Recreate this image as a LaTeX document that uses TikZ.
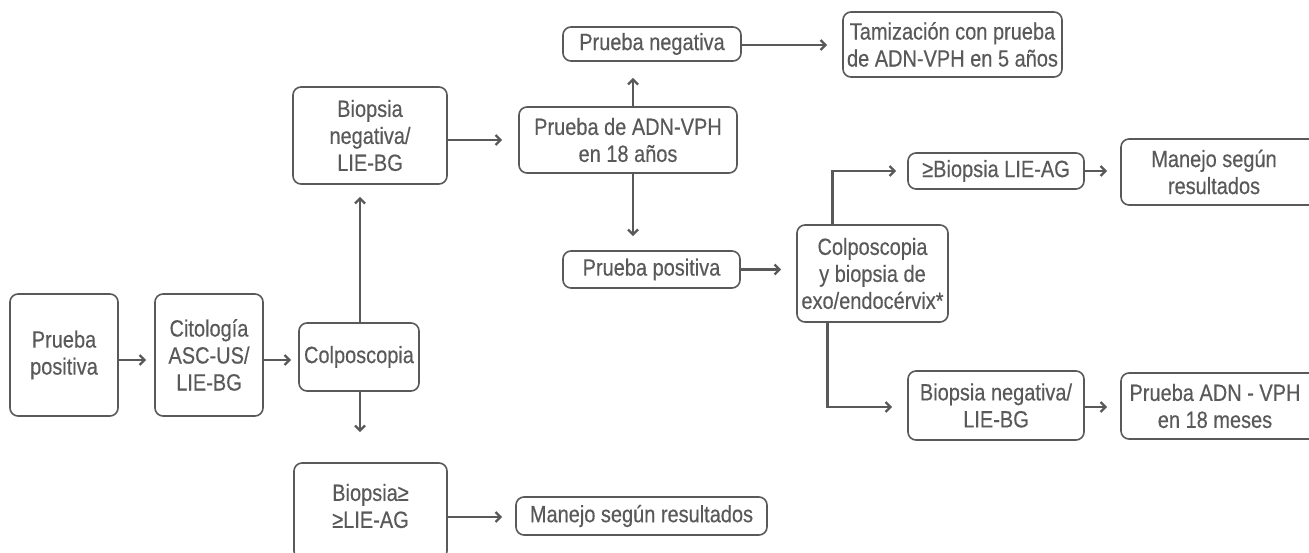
\documentclass[tikz,border=0pt]{standalone}
\usepackage{fontspec}
\setmainfont{Liberation Sans}[FakeStretch=0.85,FakeBold=0.4]
\usetikzlibrary{arrows.meta,calc}
\definecolor{ink}{HTML}{595959}
\begin{document}
\begin{tikzpicture}[x=1pt,y=-1pt,
  box/.style={draw=ink, line width=1.6pt, rounded corners=8pt, inner sep=0pt,
    align=center, text=ink, font=\fontsize{23.5}{27}\selectfont},
  lbl/.style={inner sep=0pt, align=center, text=ink, font=\fontsize{23.5}{27}\selectfont},
  arr/.style={draw=ink, line width=2.4pt, -{Straight Barb[length=5pt,width=10pt]}}]
\useasboundingbox (0,0) rectangle (1309,553);
\clip (0,0) rectangle (1309,553);

% left column
\node[box, minimum width=108pt, minimum height=122pt] (pp) at (64,355) {Prueba\\positiva};
\node[box, minimum width=108pt, minimum height=122pt] (cit) at (209,355) {Citología\\ASC-US/\\LIE-BG};
\node[box, minimum width=120pt, minimum height=68pt] (colp) at (359,357) {Colposcopia};
\node[box, minimum width=154pt, minimum height=97pt] (bneg) at (370,135.5) {Biopsia\\negativa/\\LIE-BG};
\node[box, minimum width=153pt, minimum height=96pt] (bag) at (370.5,511) {};
\node[lbl] (bagt) at (370.5,506) {Biopsia≥\\≥LIE-AG};
\node[box, minimum width=251pt, minimum height=38pt] (man1) at (641.5,516) {Manejo según resultados};

% middle column
\node[box, minimum width=218pt, minimum height=66pt] (adn) at (628,140) {Prueba de ADN-VPH\\en 18 años};
\node[box, minimum width=178pt, minimum height=34pt] (pneg) at (652,44) {Prueba negativa};
\node[box, minimum width=219pt, minimum height=65pt] (tam) at (952.5,44.5) {Tamización con prueba\\de ADN-VPH en 5 años};
\node[box, minimum width=177pt, minimum height=37pt] (ppos) at (651.5,269.5) {Prueba positiva};

% right column
\node[box, minimum width=151pt, minimum height=97pt] (colp2) at (872.5,273.5) {Colposcopia\\y biopsia de\\exo/endocérvix*};
\node[box, minimum width=176pt, minimum height=36pt] (bag2) at (996,171) {≥Biopsia LIE-AG};
\node[box, minimum width=176pt, minimum height=69pt] (bneg2) at (996,405.5) {Biopsia negativa/\\LIE-BG};
\node[box, minimum width=219pt, minimum height=66pt] (man2) at (1230.5,172) {};
\node[lbl] (man2t) at (1214,172) {Manejo según\\resultados};
\node[box, minimum width=219pt, minimum height=66pt] (adn18) at (1230.5,406) {};
\node[lbl] (adn18t) at (1215,406) {Prueba ADN - VPH\\en 18 meses};

% connectors
\draw[arr, shorten >=8pt] ([yshift=-5pt]pp.east) -- ([yshift=-5pt]cit.west);
\draw[arr, shorten >=7pt] ([yshift=-5pt]cit.east) -- ([yshift=-5pt]cit.east -| colp.west);
\draw[arr, shorten >=12pt] ([xshift=1pt]colp.north) -- ([xshift=1pt]colp.north |- bneg.south);
\draw[arr, shorten >=30pt] ([xshift=1pt]colp.south) -- ([xshift=1pt]colp.south |- bag.north);
\draw[arr, shorten >=13pt] ([yshift=-6pt]bag.east) -- ([yshift=-6pt]bag.east -| man1.west);
\draw[arr, shorten >=16pt] (bneg.east |- adn.west) -- (adn.west);
\draw[arr, shorten >=16pt] ([xshift=5pt]adn.north) -- ([xshift=5pt]adn.north |- pneg.south);
\draw[arr, shorten >=14pt] ([xshift=5pt]adn.south) -- ([xshift=5pt]adn.south |- ppos.north);
\draw[arr, shorten >=15pt] ([yshift=-1pt]pneg.east) -- ([yshift=-1pt]pneg.east -| tam.west);
\draw[arr, shorten >=15pt] (ppos.east) -- (ppos.east -| colp2.west);
\draw[arr, shorten >=11pt] ([xshift=-40pt]colp2.north) |- (bag2.west);
\draw[arr, shorten >=15pt] ([xshift=-45pt]colp2.south) |- ([yshift=-1.5pt]bneg2.west);
\draw[arr, shorten >=13pt] (bag2.east) -- (bag2.east -| man2.west);
\draw[arr, shorten >=13pt] ([yshift=-1.5pt]bneg2.east) -- ([yshift=-1.5pt]bneg2.east -| adn18.west);
\end{tikzpicture}
\end{document}
